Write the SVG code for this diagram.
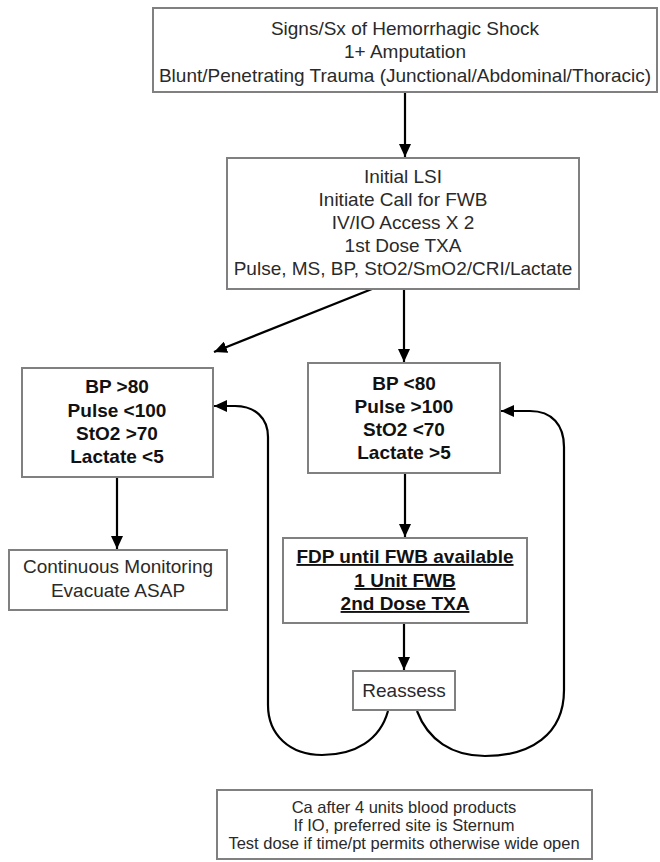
<svg xmlns="http://www.w3.org/2000/svg" width="660" height="862" viewBox="0 0 660 862">
<style>
.box{fill:#fff;stroke:#808080;stroke-width:2}
.t{font-family:"Liberation Sans",Arial,Helvetica,sans-serif;font-size:19px;fill:#2a2a2a;text-anchor:middle}
.b{font-family:"Liberation Sans",Arial,Helvetica,sans-serif;font-size:19px;font-weight:bold;fill:#111;text-anchor:middle}
.u{text-decoration:underline}
.s{font-family:"Liberation Sans",Arial,Helvetica,sans-serif;font-size:16.5px;fill:#2a2a2a;text-anchor:middle}
.c{fill:none;stroke:#000;stroke-width:2.2}
</style>
<defs>
<marker id="ah" markerUnits="userSpaceOnUse" markerWidth="14" markerHeight="12" refX="13" refY="6" orient="auto">
<path d="M0,0 L13,6 L0,12 z" fill="#000"/>
</marker>
</defs>
<g id="connectors">
<line class="c" x1="405" y1="92" x2="405" y2="157" marker-end="url(#ah)"/>
<line class="c" x1="372" y1="289" x2="214" y2="352" marker-end="url(#ah)"/>
<line class="c" x1="404" y1="289" x2="404" y2="362" marker-end="url(#ah)"/>
<line class="c" x1="117" y1="477" x2="117" y2="549" marker-end="url(#ah)"/>
<line class="c" x1="405" y1="473" x2="405" y2="537" marker-end="url(#ah)"/>
<line class="c" x1="404" y1="623" x2="404" y2="670" marker-end="url(#ah)"/>
<path class="c" d="M 388 711 C 380 740 355 755 322 755 C 290 755 268 735 268 705 L 268 437 C 268 418 255 406 235 406 L 214 406" marker-end="url(#ah)"/>
<path class="c" d="M 417 711 C 428 740 452 756 485 756 C 530 756 564 735 564 690 L 564 447 C 564 425 552 411 530 411 L 501 411" marker-end="url(#ah)"/>
</g>
<g id="n1">
<rect class="box" x="153" y="8" width="504" height="84"/>
<text class="t" x="405" y="35">Signs/Sx of Hemorrhagic Shock</text>
<text class="t" x="405" y="58">1+ Amputation</text>
<text class="t" x="405" y="82">Blunt/Penetrating Trauma (Junctional/Abdominal/Thoracic)</text>
</g>
<g id="n2">
<rect class="box" x="227" y="158" width="352" height="131"/>
<text class="t" x="403" y="183">Initial LSI</text>
<text class="t" x="403" y="206">Initiate Call for FWB</text>
<text class="t" x="403" y="229">IV/IO Access X 2</text>
<text class="t" x="403" y="252">1st Dose TXA</text>
<text class="t" x="403" y="275">Pulse, MS, BP, StO2/SmO2/CRI/Lactate</text>
</g>
<g id="n3">
<rect class="box" x="22" y="368" width="191" height="109"/>
<text class="b" x="117" y="393">BP &gt;80</text>
<text class="b" x="117" y="417">Pulse &lt;100</text>
<text class="b" x="117" y="440">StO2 &gt;70</text>
<text class="b" x="117" y="463">Lactate &lt;5</text>
</g>
<g id="n4">
<rect class="box" x="308" y="363" width="192" height="110"/>
<text class="b" x="404" y="390">BP &lt;80</text>
<text class="b" x="404" y="413">Pulse &gt;100</text>
<text class="b" x="404" y="436">StO2 &lt;70</text>
<text class="b" x="404" y="459">Lactate &gt;5</text>
</g>
<g id="n5">
<rect class="box" x="9" y="550" width="218" height="60"/>
<text class="t" x="118" y="573">Continuous Monitoring</text>
<text class="t" x="118" y="597">Evacuate ASAP</text>
</g>
<g id="n6">
<rect class="box" x="283" y="538" width="244" height="85"/>
<text class="b u" x="405" y="563">FDP until FWB available</text>
<text class="b u" x="405" y="587">1 Unit FWB</text>
<text class="b u" x="405" y="610">2nd Dose TXA</text>
</g>
<g id="n7">
<rect class="box" x="353" y="671" width="102" height="39"/>
<text class="t" x="404" y="697">Reassess</text>
</g>
<g id="n8">
<rect class="box" x="217" y="790" width="375" height="69"/>
<text class="s" x="404" y="813">Ca after 4 units blood products</text>
<text class="s" x="404" y="831">If IO, preferred site is Sternum</text>
<text class="s" x="404" y="849">Test dose if time/pt permits otherwise wide open</text>
</g>
</svg>
